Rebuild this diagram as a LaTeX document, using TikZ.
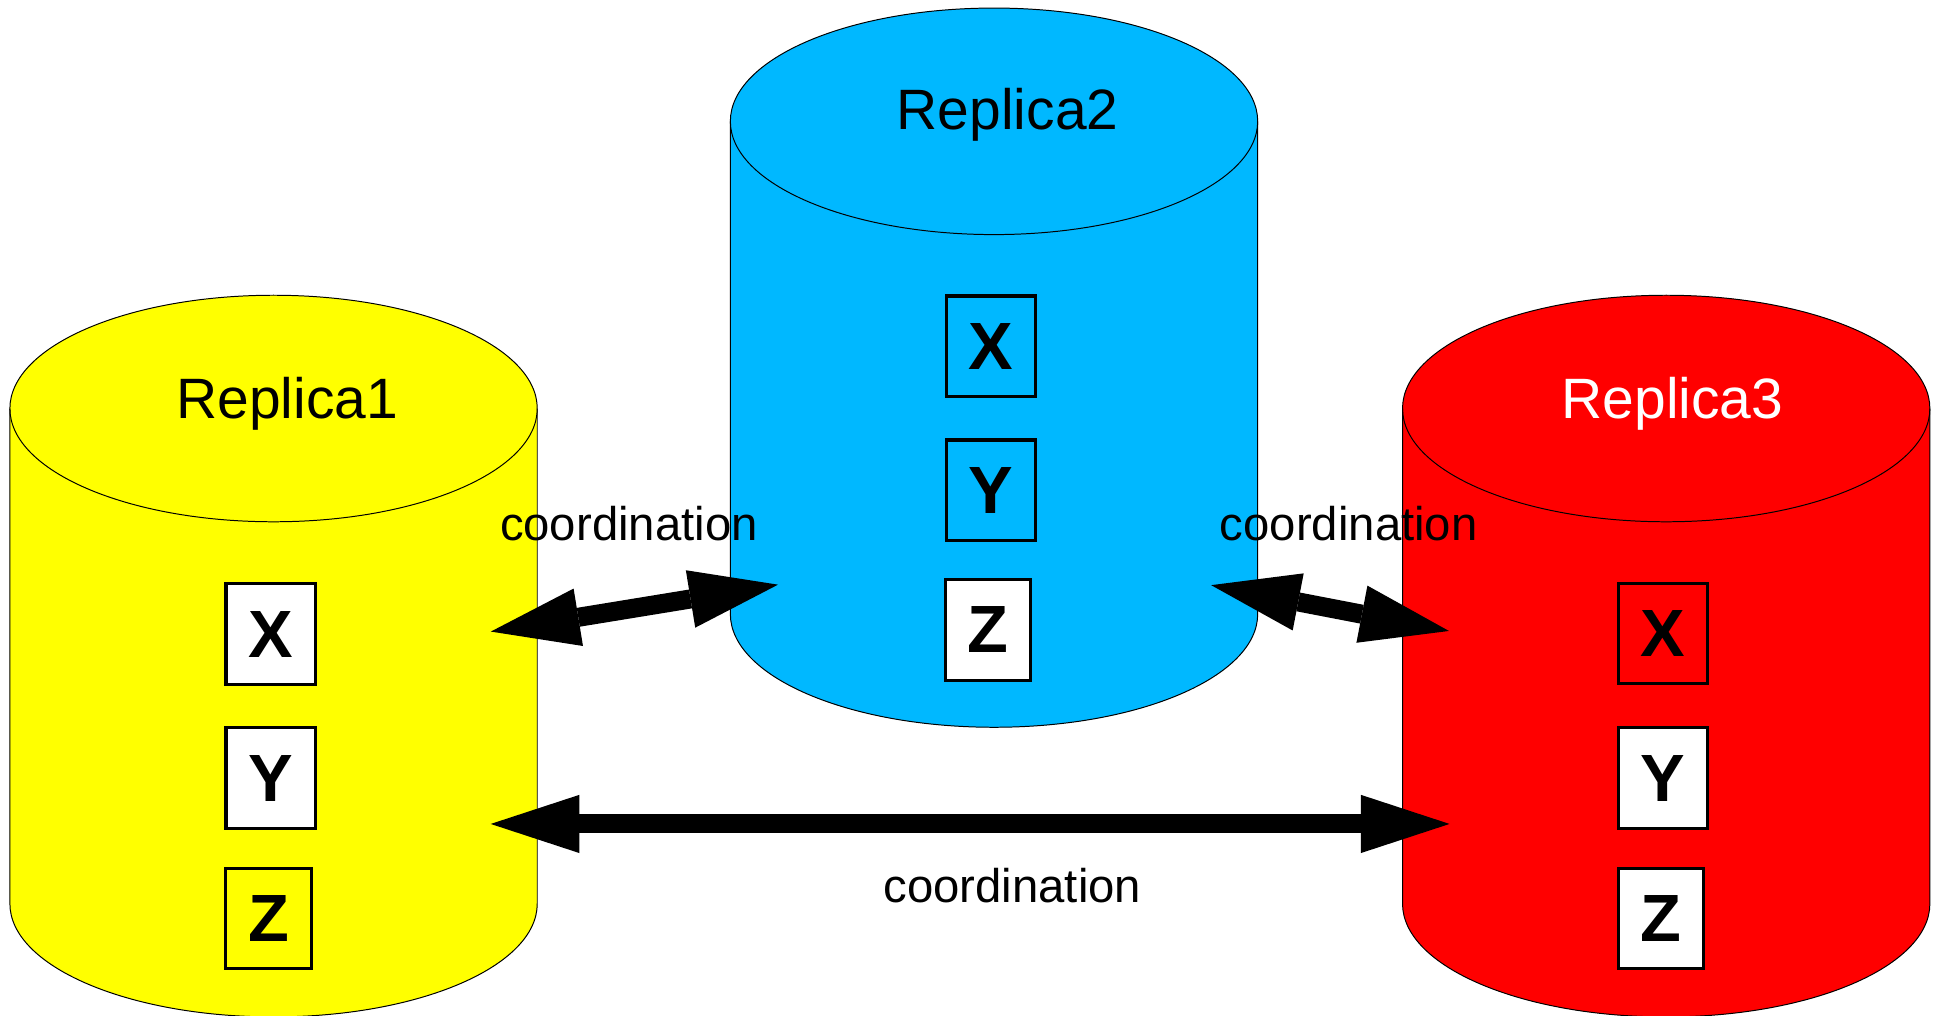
\documentclass[tikz,border=0pt]{standalone}
\usepackage{fontspec}
\setmainfont{Liberation Sans}
\usetikzlibrary{arrows.meta}

\definecolor{drumyellow}{RGB}{255,255,0}
\definecolor{drumblue}{RGB}{0,184,255}
\definecolor{drumred}{RGB}{255,0,0}

% A standing cylinder: #1 centre x, #2 top ellipse y, #3 bottom ellipse y, #4 fill colour
\newcommand\drumcyl[4]{%
  \fill[#4] (#1-213,#2) -- (#1-213,#3)
    arc[start angle=180,end angle=0,x radius=213,y radius=91.5]
    -- (#1+213,#2) -- cycle;
  \fill[#4] (#1,#2) ellipse[x radius=213,y radius=91.5];
  \draw[drumline] (#1-213,#2) -- (#1-213,#3)
    arc[start angle=180,end angle=0,x radius=213,y radius=91.5]
    -- (#1+213,#2);
  \draw[drumline] (#1,#2) ellipse[x radius=213,y radius=91.5];
}

\tikzset{
  drumline/.style={draw=black,line width=0.8pt},
  item/.style={draw=black,line width=2.5pt,minimum width=72pt,minimum height=81pt,
    inner sep=0pt,font=\fontsize{54}{60}\selectfont\bfseries},
  itemz/.style={item,minimum width=69pt},
  title/.style={anchor=base,inner sep=0pt,font=\fontsize{46}{54}\selectfont},
  note/.style={anchor=base,inner sep=0pt,font=\fontsize{38.2}{46}\selectfont},
  duplex/.style={line width=15.4pt,
    {Triangle[length=71.6pt,width=47pt,line width=0pt 0]}-{Triangle[length=71.6pt,width=47pt,line width=0pt 0]}},
}

\begin{document}
\begin{tikzpicture}[x=1pt,y=-1pt]
  \useasboundingbox (0,0) rectangle (1568,820);
  \fill[white] (0,0) rectangle (1568,820);
  \clip (0,0) rectangle (1568,820);

  % the three replicas
  \drumcyl{221}{330}{730}{drumyellow}
  \drumcyl{803}{98}{496}{drumblue}
  \drumcyl{1346}{330}{730}{drumred}

  \node[title] (t1) at (232,338) {Replica1};
  \node[title] (t2) at (814,104.8) {Replica2};
  \node[title,text=white] (t3) at (1351,338) {Replica3};

  % data items held by each replica
  \node[item,fill=white] (r1x) at (218.6,512.2) {X};
  \node[item,fill=white] (r1y) at (218.6,628.5) {Y};
  \node[itemz] (r1z) at (217,741.8) {Z};

  \node[item] (r2x) at (800.5,279.6) {X};
  \node[item] (r2y) at (800.5,395.9) {Y};
  \node[itemz,fill=white] (r2z) at (798.3,508.9) {Z};

  \node[item] (r3x) at (1343.5,511.6) {X};
  \node[item,fill=white] (r3y) at (1343.5,628.5) {Y};
  \node[itemz,fill=white] (r3z) at (1341.6,741.8) {Z};

  % ends of the coordination links
  \coordinate (p12a) at (396.5,510.2);
  \coordinate (p12b) at (628.5,472.3);
  \coordinate (p23a) at (978.4,472.7);
  \coordinate (p23b) at (1170.5,509.7);
  \coordinate (p13a) at (396.4,665.6);
  \coordinate (p13b) at (1171,665.6);

  \draw[duplex] (p12a) -- (p12b);
  \draw[duplex] (p23a) -- (p23b);
  \draw[duplex] (p13a) -- (p13b);

  \node[note] (c12) at (508,436.4) {coordination};
  \node[note] (c23) at (1089.6,436.4) {coordination};
  \node[note] (c13) at (817.8,728.9) {coordination};
\end{tikzpicture}
\end{document}
